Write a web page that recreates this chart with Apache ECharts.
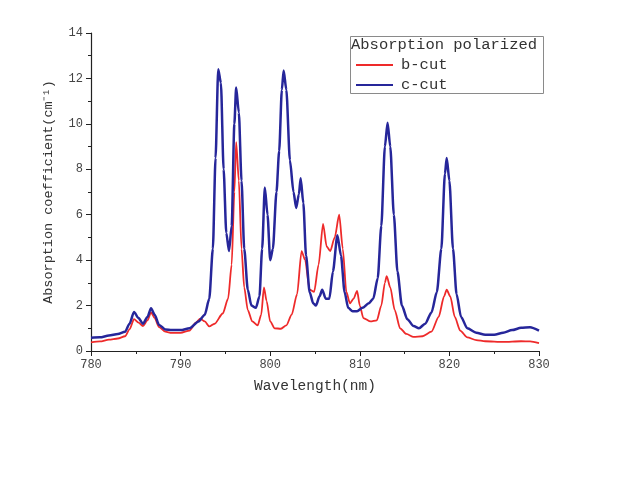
<!DOCTYPE html>
<html>
<head>
<meta charset="utf-8">
<script src="https://cdn.jsdelivr.net/npm/echarts@6/dist/echarts.min.js"></script>
<style>
  html, body { margin: 0; padding: 0; background: #fff; }
  #chart { width: 635px; height: 485px; }
</style>
</head>
<body>
<div id="chart"></div>
<script>
// Absorption spectra, two crystal cuts (wavelength in nm, coefficient in cm^-1)
const bCutWavelength = [780, 781, 782, 783, 783.8, 784.3, 784.8, 785.3, 785.8, 786.3, 786.7, 787.1, 787.6, 788.3, 789, 790, 791, 791.7, 792.2, 792.7, 793.2, 793.8, 794.7, 795.3, 795.7, 796.0, 796.2, 796.5, 796.8, 797.1, 797.5, 798.0, 798.6, 799.0, 799.3, 799.6, 800.0, 800.5, 801.2, 801.8, 802.4, 803.0, 803.5, 803.9, 804.4, 804.9, 805.4, 805.9, 806.3, 806.7, 807.2, 807.7, 808.1, 808.5, 808.9, 809.3, 809.7, 810.0, 810.4, 811.2, 811.9, 812.4, 812.8, 813.0, 813.4, 813.9, 814.5, 815.2, 816, 817, 818, 818.8, 819.4, 819.7, 820.1, 820.6, 821.2, 822, 823, 824, 826, 828, 829, 830];
const bCutValues = [0.38, 0.42, 0.5, 0.55, 0.65, 0.95, 1.4, 1.25, 1.1, 1.35, 1.7, 1.45, 1.05, 0.85, 0.8, 0.8, 0.9, 1.25, 1.42, 1.3, 1.08, 1.2, 1.65, 2.3, 3.8, 7.0, 9.2, 7.5, 4.5, 2.8, 1.8, 1.3, 1.13, 1.6, 2.8, 2.2, 1.3, 1.0, 0.98, 1.13, 1.6, 2.5, 4.4, 4.0, 2.7, 2.6, 3.8, 5.6, 4.6, 4.4, 5.0, 6.0, 4.5, 2.6, 2.1, 2.3, 2.65, 2.0, 1.45, 1.3, 1.35, 2.0, 3.0, 3.3, 2.8, 1.8, 1.0, 0.75, 0.62, 0.65, 0.85, 1.5, 2.4, 2.7, 2.4, 1.5, 0.9, 0.6, 0.48, 0.43, 0.4, 0.43, 0.42, 0.35];

const cCutWavelength = [780, 781, 782, 783, 783.8, 784.3, 784.8, 785.3, 785.8, 786.3, 786.7, 787.1, 787.6, 788.3, 789, 790, 791, 792, 792.7, 793.2, 793.6, 793.9, 794.2, 794.5, 794.8, 795.1, 795.4, 795.7, 796.0, 796.2, 796.5, 796.8, 797.1, 797.5, 797.9, 798.4, 798.8, 799.1, 799.4, 799.7, 800.0, 800.3, 800.7, 801.0, 801.3, 801.5, 801.8, 802.2, 802.6, 802.9, 803.2, 803.4, 803.7, 804.0, 804.4, 804.8, 805.1, 805.5, 805.8, 806.2, 806.6, 807.0, 807.5, 807.9, 808.3, 808.7, 809.2, 809.7, 810.3, 811.0, 811.5, 812.0, 812.4, 812.8, 813.1, 813.4, 813.8, 814.2, 814.7, 815.3, 816.0, 816.6, 817.3, 818.0, 818.6, 819.1, 819.5, 819.7, 820.0, 820.4, 820.8, 821.3, 822, 823, 824, 825, 826, 827, 828, 829, 830];
const cCutValues = [0.58, 0.6, 0.68, 0.75, 0.85, 1.2, 1.72, 1.45, 1.2, 1.5, 1.88, 1.6, 1.15, 0.95, 0.92, 0.92, 1.0, 1.3, 1.6, 2.3, 4.5, 8.5, 12.4, 11.8, 8.0, 5.2, 4.4, 5.5, 10.0, 11.6, 10.5, 7.5, 4.5, 2.7, 2.0, 1.9, 2.4, 4.5, 7.2, 6.0, 4.0, 4.5, 7.0, 8.8, 11.5, 12.35, 11.5, 8.4, 7.0, 6.3, 6.9, 7.6, 6.5, 4.2, 2.6, 2.1, 2.0, 2.4, 2.7, 2.3, 2.3, 3.5, 5.1, 4.2, 2.6, 1.9, 1.75, 1.75, 1.9, 2.1, 2.3, 3.2, 5.5, 9.0, 10.05, 9.0, 6.0, 3.5, 2.0, 1.4, 1.1, 1.0, 1.2, 1.7, 2.6, 4.5, 7.8, 8.5, 7.5, 4.5, 2.5, 1.5, 1.0, 0.8, 0.72, 0.72, 0.8, 0.92, 1.02, 1.05, 0.9];

const seriesNames = ['b-cut', 'c-cut'];
const legendTitle = 'Absorption polarized';
const xTitle = 'Wavelength(nm)';
const yTitle = 'Absorption coefficient(cm\u207B\u00B9)';

const zip = (xs, ys) => xs.map((x, i) => [x, ys[i]]);

const mono = 'Liberation Mono';
const chart = echarts.init(document.getElementById('chart'), null, { renderer: 'canvas' });

const axisCommon = {
  type: 'value',
  axisLine: { show: true, lineStyle: { color: '#222', width: 1.2 } },
  axisTick: { show: true, inside: false, length: 5, lineStyle: { color: '#222' } },
  minorTick: { show: true, splitNumber: 2, length: 3, lineStyle: { color: '#222' } },
  splitLine: { show: false },
  axisLabel: { color: '#444', fontFamily: mono, fontSize: 12 },
  nameLocation: 'middle',
  nameTextStyle: { color: '#333', fontFamily: mono }
};

chart.setOption({
  animation: false,
  backgroundColor: '#fff',
  grid: { left: 91, right: 96, top: 33, bottom: 134, containLabel: false },
  xAxis: Object.assign({}, axisCommon, {
    min: 780, max: 830, interval: 10,
    name: xTitle, nameGap: 28,
    nameTextStyle: { color: '#333', fontFamily: mono, fontSize: 14.5 },
    axisLabel: Object.assign({}, axisCommon.axisLabel, { margin: 8 })
  }),
  yAxis: Object.assign({}, axisCommon, {
    min: 0, max: 14, interval: 2,
    name: yTitle, nameGap: 36,
    nameTextStyle: { color: '#333', fontFamily: mono, fontSize: 13.5 },
    axisLabel: Object.assign({}, axisCommon.axisLabel, { margin: 8 })
  }),
  legend: {
    data: seriesNames,
    orient: 'vertical',
    left: 351, top: 52,
    icon: 'rect',
    itemWidth: 37, itemHeight: 2,
    itemGap: 4,
    textStyle: { color: '#333', fontFamily: mono, fontSize: 15.5, padding: [0, 0, 0, 3] }
  },
  graphic: [
    {
      type: 'rect', left: 348, top: 34, z: 10,
      shape: { width: 193, height: 57 },
      style: { fill: 'none', stroke: '#8a8a8a', lineWidth: 1 }
    },
    {
      type: 'text', left: 351, top: 37, z: 10,
      style: { text: legendTitle, fill: '#333', font: '15.5px "Liberation Mono"' }
    }
  ],
  series: [
    {
      name: seriesNames[0], type: 'line', symbol: 'none',
      smooth: 0.25, smoothMonotone: 'x',
      data: zip(bCutWavelength, bCutValues),
      lineStyle: { color: '#ee2a2a', width: 1.8 },
      itemStyle: { color: '#ee2a2a' }
    },
    {
      name: seriesNames[1], type: 'line', symbol: 'none',
      smooth: 0.25, smoothMonotone: 'x',
      data: zip(cCutWavelength, cCutValues),
      lineStyle: { color: '#26269a', width: 2.5 },
      itemStyle: { color: '#26269a' }
    }
  ]
});
</script>
</body>
</html>
